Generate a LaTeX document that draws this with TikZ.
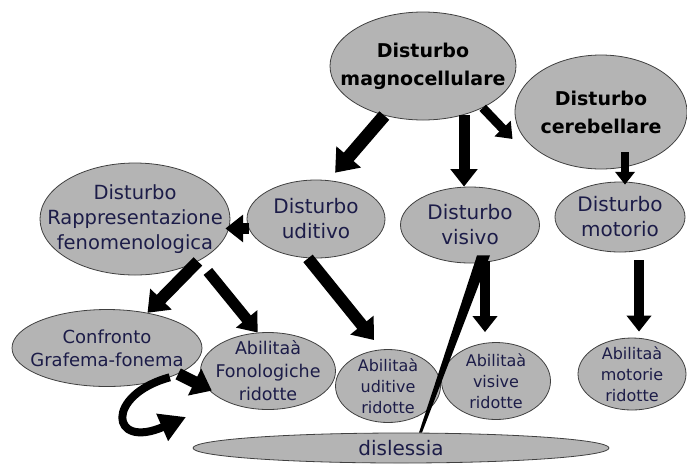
\documentclass[tikz,border=0pt]{standalone}
\usepackage{fontspec}
\setmainfont{DejaVu Sans}
\usetikzlibrary{shapes.geometric,arrows.meta}
\definecolor{blobgray}{RGB}{180,180,180}
\definecolor{inkblue}{RGB}{28,28,72}
\tikzset{
  blob/.style={ellipse,draw=black!75,fill=blobgray,line width=0.8pt,inner xsep=-30pt,inner ysep=-20pt,align=center,text=inkblue},
  bigtxt/.style={font=\fontsize{19}{28}\selectfont\bfseries,text=black},
  midtxt/.style={font=\fontsize{20}{25}\selectfont},
  smalltxt/.style={font=\fontsize{17.5}{23}\selectfont},
  tinytxt/.style={font=\fontsize{16}{21}\selectfont},
  fat/.style={line width=#1,-{Triangle[length=0pt 1.6,width=0pt 2.4]}},
  fat/.default=11pt
}
\begin{document}
\begin{tikzpicture}[x=1pt,y=-1pt]
\useasboundingbox (0,0) rectangle (687,464);

\node[blob,bigtxt,minimum width=186pt,minimum height=108pt] (magno) at (423,66) {Disturbo\\magnocellulare};
\node[blob,bigtxt,minimum width=172pt,minimum height=114pt] (cereb) at (601,112) {Disturbo\\cerebellare};
\node[blob,midtxt,font=\fontsize{19.5}{25}\selectfont,minimum width=190pt,minimum height=112pt] (rappr) at (135,219) {Disturbo\\Rappresentazione\\fenomenologica};
\node[blob,midtxt,minimum width=138pt,minimum height=78pt] (uditivo) at (316,219) {Disturbo\\uditivo};
\node[blob,midtxt,minimum width=139pt,minimum height=76pt] (visivo) at (470,225) {Disturbo\\visivo};
\node[blob,midtxt,minimum width=130pt,minimum height=70pt] (motorio) at (620,217) {Disturbo\\motorio};
\node[blob,smalltxt,font=\fontsize{18}{23}\selectfont,minimum width=190pt,minimum height=77pt] (confronto) at (107,348) {Confronto\\Grafema-fonema};
\node[blob,smalltxt,minimum width=135pt,minimum height=77pt] (fonol) at (268,371) {Abilitaà\\Fonologiche\\ridotte};
\node[blob,tinytxt,minimum width=105pt,minimum height=73pt] (uditive) at (388,386) {Abilitaà\\uditive\\ridotte};
\node[blob,tinytxt,minimum width=109pt,minimum height=77pt] (visive) at (496,381) {Abilitaà\\visive\\ridotte};
\node[blob,tinytxt,minimum width=108pt,minimum height=72pt] (motorie) at (632,374) {Abilitaà\\motorie\\ridotte};
\node[blob,midtxt,minimum width=416pt,minimum height=30pt] (dislessia) at (401,448) {dislessia};

\draw[fat=13pt,shorten >=10pt] (magno.232) -- (uditivo.72);
\draw[fat] (magno.310) -- (magno.310 |- visivo.north);
\draw[fat=9pt] (magno.325) -- ([xshift=-10pt,yshift=-3pt]cereb.197);
\draw[fat=8pt] ([xshift=24pt,yshift=17pt]cereb.south) -- ([xshift=5pt,yshift=-3pt]motorio.north);
\draw[fat,shorten >=-5pt] (uditivo.188) -- (uditivo.188 -| rappr.east);
\draw[fat=12pt] (rappr.326) -- (confronto.41);
\draw[fat] ([xshift=10pt,yshift=-10pt]rappr.326) -- (fonol.105);
\draw[fat=12pt,shorten >=12pt] ([xshift=-8pt]uditivo.south) -- (uditive.100);
\draw[fat=10pt] ([xshift=15pt,yshift=2pt]visivo.south) -- ([xshift=-11pt,yshift=10pt]visive.north);
\draw[fat=10pt] ([xshift=19pt,yshift=-8pt]motorio.south) -- ([xshift=7pt,yshift=6pt]motorie.north);
\draw[fat=12pt,shorten >=-5pt] (confronto.340) -- (fonol.196);
\fill ([xshift=7pt,yshift=8pt]visivo.south) -- ([xshift=20pt,yshift=8pt]visivo.south) -- ([xshift=21pt]dislessia.north) -- ([xshift=18pt]dislessia.north) -- cycle;

\coordinate (loopend) at (186,417);
\draw[line width=8pt,-{Triangle[length=26pt,width=28pt]}] (confronto.335) .. controls (105,395) and (110,450) .. (loopend);
\end{tikzpicture}
\end{document}
